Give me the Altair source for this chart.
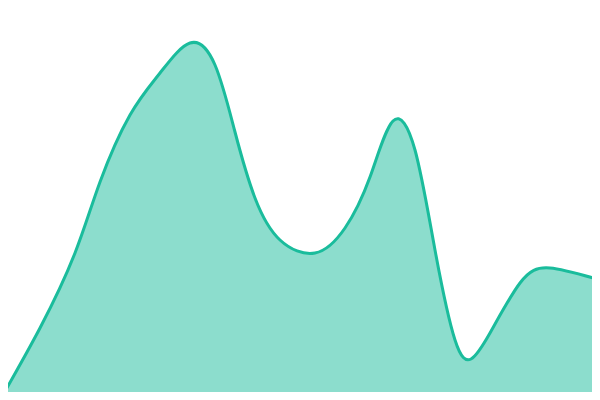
import altair as alt
import pandas as pd

# x position and height (value)
xs = [0, 40, 75, 100, 130, 160, 190, 215, 235, 255, 280, 315, 345, 370, 393, 415, 435, 455,
      471, 490, 520, 550, 600]
ys_px = [400, 328, 253, 182, 115, 73, 43, 65, 132, 198, 240, 253, 228, 177, 121, 150, 250, 340,
         359, 333, 283, 268, 280]
values = [400 - v for v in ys_px]

df = pd.DataFrame({"x": xs, "v": values})

xsc = alt.Scale(domain=[8, 592], nice=False, zero=False)
ysc = alt.Scale(domain=[8, 392], nice=False, zero=False)

base = alt.Chart(df).encode(
    x=alt.X("x:Q", scale=xsc, axis=None),
    y=alt.Y("v:Q", scale=ysc, axis=None),
)

area = base.mark_area(interpolate="natural", color="#1abc9c", opacity=0.5, clip=True)
line = base.mark_line(interpolate="natural", color="#1abc9c", strokeWidth=3, clip=True)

chart = (area + line).properties(width=584, height=384, padding=0).configure_view(stroke=None)

chart.save("out.html", embed_options={"renderer": "svg", "actions": False})
